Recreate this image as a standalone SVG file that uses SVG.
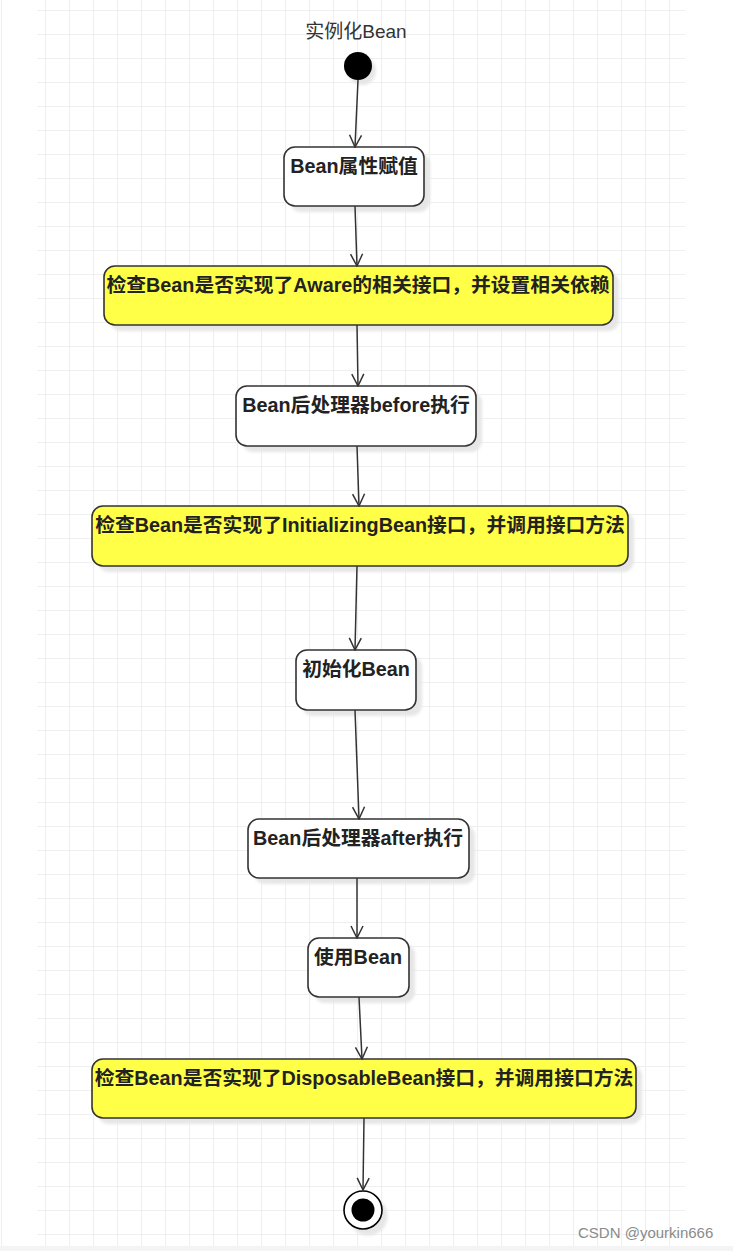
<svg xmlns="http://www.w3.org/2000/svg" width="733" height="1251" viewBox="0 0 733 1251">
<defs>
<pattern id="grid" x="21" y="10" width="24" height="24" patternUnits="userSpaceOnUse">
<path d="M0 0.5H24M0.5 0V24" fill="none" stroke="#efefef" stroke-width="1.2"/>
</pattern>
<filter id="sh" x="-20%" y="-20%" width="140%" height="160%">
<feGaussianBlur stdDeviation="1.5"/>
</filter>
<marker id="arr" viewBox="0 0 14 14" refX="13" refY="7" markerWidth="14" markerHeight="14" markerUnits="userSpaceOnUse" orient="auto">
<path d="M1 1L13 7L1 13" fill="none" stroke="#333" stroke-width="1.5"/>
</marker>
<style>
.box{fill:#fff;stroke:#333;stroke-width:1.6}
.yel{fill:#ffff47;stroke:#333;stroke-width:1.6}
.shd{fill:#e6e6e6;filter:url(#sh)}
.t{font-family:"Liberation Sans","Noto Sans CJK SC",sans-serif;font-weight:bold;font-size:19.8px;fill:#222;text-anchor:middle}
.lbl{font-family:"Liberation Sans","Noto Sans CJK SC",sans-serif;font-size:19px;fill:#333;text-anchor:middle}
.con{fill:none;stroke:#333;stroke-width:1.5;marker-end:url(#arr)}
</style>
</defs>
<rect width="733" height="1251" fill="#fff"/>
<rect x="37" y="0" width="648" height="1246" fill="url(#grid)"/>
<line x1="1.5" y1="0" x2="1.5" y2="1246" stroke="#eeeeee" stroke-width="1"/>
<rect x="0" y="1246" width="733" height="5" fill="#f4f4f4"/>

<g id="start">
<text class="lbl" x="356" y="38">实例化Bean</text>
<circle cx="362" cy="71" r="14" class="shd"/>
<ellipse cx="358" cy="66" rx="14" ry="14" fill="#000"/>
</g>

<g id="n1">
<rect x="290" y="153" width="140" height="59" rx="11" class="shd"/>
<rect x="284" y="147" width="140" height="59" rx="11" class="box"/>
<text class="t" x="354" y="173">Bean属性赋值</text>
</g>

<g id="n2">
<rect x="110" y="272" width="509" height="59" rx="11" class="shd"/>
<rect x="104" y="266" width="509" height="59" rx="11" class="yel"/>
<text class="t" x="358" y="292">检查Bean是否实现了Aware的相关接口，并设置相关依赖</text>
</g>

<g id="n3">
<rect x="242" y="392" width="240" height="60" rx="11" class="shd"/>
<rect x="236" y="386" width="240" height="60" rx="11" class="box"/>
<text class="t" x="356" y="412">Bean后处理器before执行</text>
</g>

<g id="n4">
<rect x="98" y="512" width="536" height="60" rx="11" class="shd"/>
<rect x="92" y="506" width="536" height="60" rx="11" class="yel"/>
<text class="t" x="360" y="532">检查Bean是否实现了InitializingBean接口，并调用接口方法</text>
</g>

<g id="n5">
<rect x="302" y="656" width="120" height="60" rx="11" class="shd"/>
<rect x="296" y="650" width="120" height="60" rx="11" class="box"/>
<text class="t" x="356" y="676">初始化Bean</text>
</g>

<g id="n6">
<rect x="254" y="825" width="221" height="59" rx="11" class="shd"/>
<rect x="248" y="819" width="221" height="59" rx="11" class="box"/>
<text class="t" x="358" y="845">Bean后处理器after执行</text>
</g>

<g id="n7">
<rect x="314" y="944" width="101" height="59" rx="11" class="shd"/>
<rect x="308" y="938" width="101" height="59" rx="11" class="box"/>
<text class="t" x="358" y="964">使用Bean</text>
</g>

<g id="n8">
<rect x="98" y="1065" width="544" height="59" rx="11" class="shd"/>
<rect x="92" y="1059" width="544" height="59" rx="11" class="yel"/>
<text class="t" x="364" y="1085">检查Bean是否实现了DisposableBean接口，并调用接口方法</text>
</g>

<g id="end">
<circle cx="368" cy="1216" r="19.5" class="shd"/>
<circle cx="363" cy="1210" r="19" fill="#fff" stroke="#000" stroke-width="1.6"/>
<circle cx="363" cy="1210" r="11.5" fill="#000"/>
</g>

<g id="connectors">
<path class="con" d="M358 80L355 147"/>
<path class="con" d="M355 206L357 266"/>
<path class="con" d="M357 325L358 386"/>
<path class="con" d="M357 446L359 506"/>
<path class="con" d="M357 566L355 650"/>
<path class="con" d="M355 710L359 819"/>
<path class="con" d="M357 878L357 938"/>
<path class="con" d="M359 997L362 1059"/>
<path class="con" d="M364 1118L363 1190"/>
</g>

<text x="578" y="1238" font-family="Liberation Sans, sans-serif" font-size="15" fill="#8a8a8a">CSDN @yourkin666</text>
</svg>
